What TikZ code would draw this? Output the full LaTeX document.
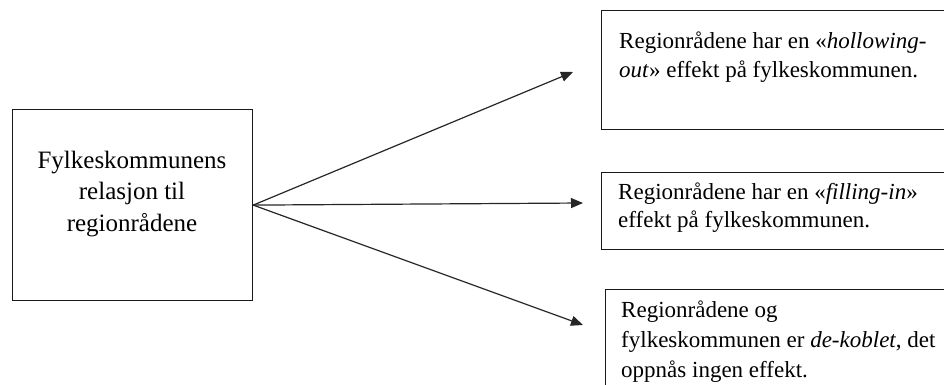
\documentclass[tikz,border=0pt]{standalone}
\usepackage{fontspec}
\setmainfont{Liberation Serif}
\usetikzlibrary{arrows.meta}
\begin{document}
\begin{tikzpicture}[x=1pt,y=-1pt,
  box/.style={draw=black!90, line width=1.2pt, rectangle, inner sep=0pt, anchor=north west},
  lbl/.style={inner sep=0pt, align=left, anchor=north west},
  arr/.style={draw=black!85, line width=1.2pt, -{Triangle[length=12pt,width=10pt]}}]
\useasboundingbox (0,0) rectangle (944,385);
\clip (0,0) rectangle (944,385);
% left box
\node[box, minimum width=240pt, minimum height=191pt] (src) at (12,109) {};
\node[inner sep=0pt, align=center, anchor=north, font=\fontsize{25}{31.5}\selectfont] (srct) at (132,145.95)
  {\strut Fylkeskommunens\\relasjon til\\regionrådene};
% right boxes
\node[box, minimum width=359pt, minimum height=119pt] (b1) at (601,10) {};
\node[lbl, font=\fontsize{23}{29.5}\selectfont] (t1) at (619,27.35)
  {\strut Regionrådene har en «\textit{hollowing-}\\\textit{out}» effekt på fylkeskommunen.};
\node[box, minimum width=359pt, minimum height=77pt] (b2) at (601,172) {};
\node[lbl, font=\fontsize{23}{28}\selectfont] (t2) at (618,179.4)
  {\strut Regionrådene har en «\textit{filling-in}»\\effekt på fylkeskommunen.};
\node[box, minimum width=355pt, minimum height=111pt] (b3) at (605,289) {};
\node[lbl, font=\fontsize{23}{30}\selectfont] (t3) at (621,296)
  {\strut Regionrådene og\\fylkeskommunen er \textit{de-koblet}, det\\oppnås ingen effekt.};
% arrows
\coordinate (e1) at (573,72);
\coordinate (e2) at (583,203);
\coordinate (e3) at (583,325);
\draw[arr] (src.east) -- (e1);
\draw[arr] (src.east) -- (e2);
\draw[arr] (src.east) -- (e3);
\end{tikzpicture}
\end{document}
